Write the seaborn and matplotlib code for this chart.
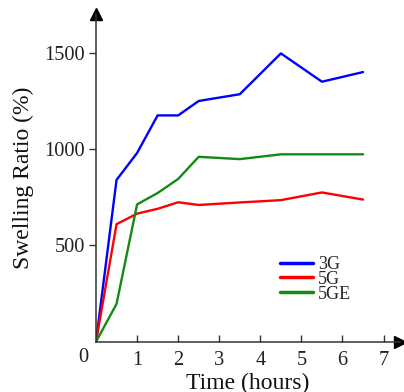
import matplotlib
matplotlib.use("Agg")
import matplotlib.pyplot as plt
import seaborn as sns
import pandas as pd

time_h = [0, 0.5, 1, 1.5, 2, 2.5, 3.5, 4.5, 5.5, 6.5]
s_3g = [0, 840, 980, 1175, 1175, 1250, 1285, 1497, 1350, 1400]
s_5g = [0, 610, 665, 690, 724, 710, 723, 735, 775, 738]
s_5ge = [0, 196, 713, 772, 845, 960, 948, 973, 973, 973]
series_names = ["3G", "5G", "5GE"]
x_ticks = [1, 2, 3, 4, 5, 6, 7]
y_ticks = [500, 1000, 1500]

rows = []
for name, vals in zip(series_names, [s_3g, s_5g, s_5ge]):
    for t, v in zip(time_h, vals):
        rows.append({"Time": t, "Swelling": v, "Sample": name})
df = pd.DataFrame(rows)

sns.set_style("white")
plt.rcParams["font.family"] = ["Liberation Serif", "DejaVu Serif"]

fig = plt.figure(figsize=(4.04, 3.92), dpi=100)
ax = fig.add_axes([96 / 404, 50.3 / 392, 304 / 404, 327.4 / 392])

palette = {"3G": "#0000ff", "5G": "#ff0000", "5GE": "#138a13"}
sns.lineplot(data=df, x="Time", y="Swelling", hue="Sample", palette=palette,
             linewidth=1.7, ax=ax, legend=True)

ax.set_xlim(0, 7.4)
ax.set_ylim(0, 1700)
ax.set_xticks(x_ticks)
ax.set_yticks(y_ticks)
ax.set_xticklabels([str(t) for t in x_ticks])
ax.set_yticklabels([str(t) for t in y_ticks])

axis_color = "#333333"
for side in ["top", "right"]:
    ax.spines[side].set_visible(False)
for side in ["left", "bottom"]:
    ax.spines[side].set_color(axis_color)
    ax.spines[side].set_linewidth(1.1)

ax.tick_params(axis="x", direction="in", length=5, width=1, color=axis_color,
               labelsize=14.7, pad=7, bottom=True, labelcolor="#222222")
ax.tick_params(axis="y", direction="out", length=5, width=1, color=axis_color,
               labelsize=14.7, pad=3, left=True, labelcolor="#222222")

ax.plot(1, 0, ">", color="black", markersize=8, transform=ax.get_yaxis_transform(),
        clip_on=False)
ax.plot(0, 1, "^", color="black", markersize=8, transform=ax.get_xaxis_transform(),
        clip_on=False)

ax.annotate("0", xy=(0, 0), xycoords="data", xytext=(-9.4, -11.5),
            textcoords="offset points", ha="center", va="center", fontsize=14.7,
            color="#222222")

ax.set_xlabel("Time (hours)", fontsize=17, labelpad=0, color="#111111")
ax.set_ylabel("Swelling Ratio (%)", fontsize=17, color="#111111")
ax.yaxis.set_label_coords(-0.205, 0.5)
ax.xaxis.set_label_coords(0.5, -0.095)

leg = ax.legend(loc="upper left", bbox_to_anchor=(0.605, 0.262), frameon=False,
                fontsize=13, handlelength=1.85, handletextpad=0.25, labelspacing=-0.12,
                borderpad=0, borderaxespad=0)
for line in leg.get_lines():
    line.set_linewidth(2.5)

fig.savefig("out.png", dpi=100)
